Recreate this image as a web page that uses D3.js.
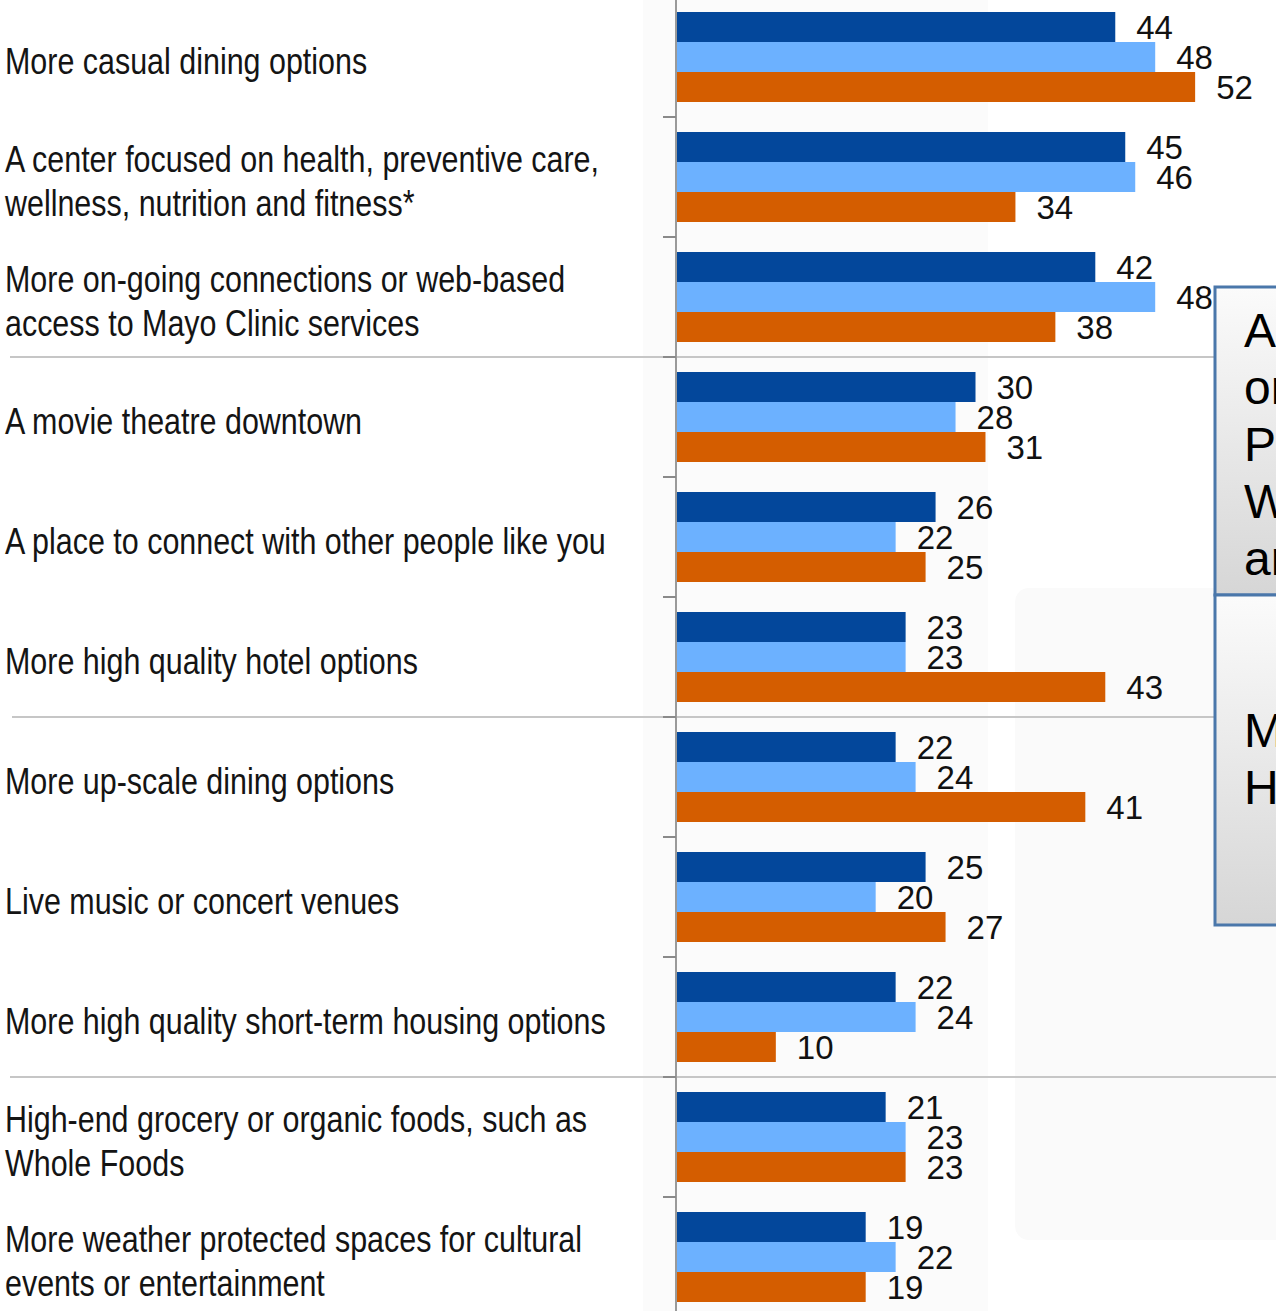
<!DOCTYPE html>
<html>
<head>
<meta charset="utf-8">
<script src="https://cdn.jsdelivr.net/npm/d3@7"></script>
<style>
  html, body { margin: 0; padding: 0; background: #ffffff; overflow: hidden; }
  svg { display: block; }
</style>
</head>
<body>
<svg id="chart" width="1276" height="1311"></svg>
<script>
// Survey items (category axis), top to bottom
const categories = [
  ["More casual dining options"],
  ["A center focused on health, preventive care,", "wellness, nutrition and fitness*"],
  ["More on-going connections or web-based", "access to Mayo Clinic services"],
  ["A movie  theatre downtown"],
  ["A place to connect with other people like you"],
  ["More high quality hotel options"],
  ["More up-scale dining options"],
  ["Live music or concert venues"],
  ["More high quality short-term housing options"],
  ["High-end grocery or organic foods, such as", "Whole Foods"],
  ["More weather protected spaces for cultural", "events or entertainment"]
];

// Percentages for the three respondent groups
const seriesA = [44, 45, 42, 30, 26, 23, 22, 25, 22, 21, 19];
const seriesB = [48, 46, 48, 28, 22, 23, 24, 20, 24, 23, 22];
const seriesC = [52, 34, 38, 31, 25, 43, 41, 27, 10, 23, 19];

const seriesKeys = ["A", "B", "C"];
const seriesColors = { A: "#03479b", B: "#6cb1ff", C: "#d45d00" };

// Partly visible call-out text at the right edge
const calloutTop = ["A", "or", "P", "W", "ar"];
const calloutBottom = ["M", "H"];

const rows = categories.map((lines, i) => ({
  key: i,
  lines,
  A: seriesA[i],
  B: seriesB[i],
  C: seriesC[i]
}));

const svg = d3.select("#chart");
const W = 1276, H = 1311;
const axisX = 676;

const x = d3.scaleLinear().domain([0, 60]).range([axisX, axisX + 599]);
const y = d3.scaleBand()
  .domain(rows.map(d => d.key))
  .range([-3, 1317])
  .paddingInner(0.25)
  .paddingOuter(0.125);
const ySub = d3.scaleBand().domain(seriesKeys).range([0, y.bandwidth()]);

// faint slide panels behind the plot
const bg = svg.append("g");
bg.append("rect").attr("x", 643).attr("y", 0).attr("width", 345).attr("height", 1311)
  .attr("fill", "#fbfbfb");
bg.append("rect").attr("x", 1015).attr("y", 588).attr("width", 280).attr("height", 652)
  .attr("rx", 14).attr("fill", "#fafafa");

// group separators
const sepIdx = [3, 6, 9];
const sepExtent = { 3: [10, 1215], 6: [12, 1276], 9: [10, 1276] };
svg.append("g").selectAll("line").data(sepIdx).join("line")
  .attr("x1", d => sepExtent[d][0])
  .attr("x2", d => sepExtent[d][1])
  .attr("y1", d => y(d) - y.step() * y.paddingInner() / 2)
  .attr("y2", d => y(d) - y.step() * y.paddingInner() / 2)
  .attr("stroke", "#c6c6c6").attr("stroke-width", 2);

// bars
const groups = svg.append("g").selectAll("g.row").data(rows).join("g")
  .attr("class", "row")
  .attr("transform", d => `translate(0,${y(d.key)})`);

groups.selectAll("rect").data(d => seriesKeys.map(k => ({ k, v: d[k] }))).join("rect")
  .attr("x", x(0))
  .attr("y", d => ySub(d.k))
  .attr("width", d => x(d.v) - x(0))
  .attr("height", ySub.bandwidth())
  .attr("fill", d => seriesColors[d.k]);

// value labels
groups.selectAll("text.val").data(d => seriesKeys.map(k => ({ k, v: d[k] }))).join("text")
  .attr("class", "val")
  .attr("x", d => x(d.v) + 21)
  .attr("y", d => ySub(d.k) + ySub.bandwidth() / 2)
  .attr("dy", "0.36em")
  .attr("font-family", "'Liberation Sans', Arial, sans-serif")
  .attr("font-size", 33)
  .attr("fill", "#111")
  .text(d => d.v);

// category axis with ticks between groups
const boundaries = d3.range(1, rows.length).map(i => y(i) - y.step() * y.paddingInner() / 2);
const axisG = svg.append("g");
axisG.append("line").attr("x1", axisX).attr("x2", axisX).attr("y1", 0).attr("y2", H)
  .attr("stroke", "#9a9a9a").attr("stroke-width", 2);
axisG.selectAll("line.tick").data(boundaries).join("line")
  .attr("class", "tick")
  .attr("x1", axisX - 13).attr("x2", axisX)
  .attr("y1", d => d).attr("y2", d => d)
  .attr("stroke", "#8a8a8a").attr("stroke-width", 2);

// category labels, set in a condensed face
const labels = svg.append("g").selectAll("text.cat").data(rows).join("text")
  .attr("class", "cat")
  .attr("font-family", "'Liberation Sans Narrow', 'Arial Narrow', 'Liberation Sans', sans-serif")
  .attr("font-size", 36)
  .attr("fill", "#141414")
  .attr("transform", d => `translate(5,${y(d.key) + y.bandwidth() / 2 + 4}) scale(0.846,1)`);
labels.selectAll("tspan").data(d => d.lines.map((t, i) => ({ t, i, n: d.lines.length }))).join("tspan")
  .attr("x", 0)
  .attr("y", d => (d.i - (d.n - 1) / 2) * 44)
  .attr("dy", "0.35em")
  .text(d => d.t);

// call-out boxes at the right edge
const defs = svg.append("defs");
const grad = defs.append("linearGradient").attr("id", "boxfill")
  .attr("x1", 0).attr("y1", 0).attr("x2", 0).attr("y2", 1);
grad.append("stop").attr("offset", "0%").attr("stop-color", "#fbfbfb");
grad.append("stop").attr("offset", "100%").attr("stop-color", "#d6d6d6");

const box = svg.append("g");
box.append("rect").attr("x", 1215).attr("y", 287).attr("width", 80).attr("height", 308)
  .attr("fill", "url(#boxfill)").attr("stroke", "#4a77aa").attr("stroke-width", 3);
box.append("rect").attr("x", 1215).attr("y", 595).attr("width", 80).attr("height", 330)
  .attr("fill", "url(#boxfill)").attr("stroke", "#4a77aa").attr("stroke-width", 3);

box.selectAll("text.top").data(calloutTop).join("text")
  .attr("class", "top")
  .attr("x", 1244).attr("y", (d, i) => 347 + i * 57)
  .attr("font-family", "'Liberation Sans', Arial, sans-serif")
  .attr("font-size", 48).attr("fill", "#000")
  .text(d => d);
box.selectAll("text.bot").data(calloutBottom).join("text")
  .attr("class", "bot")
  .attr("x", 1244).attr("y", (d, i) => 747 + i * 57)
  .attr("font-family", "'Liberation Sans', Arial, sans-serif")
  .attr("font-size", 48).attr("fill", "#000")
  .text(d => d);
</script>
</body>
</html>
